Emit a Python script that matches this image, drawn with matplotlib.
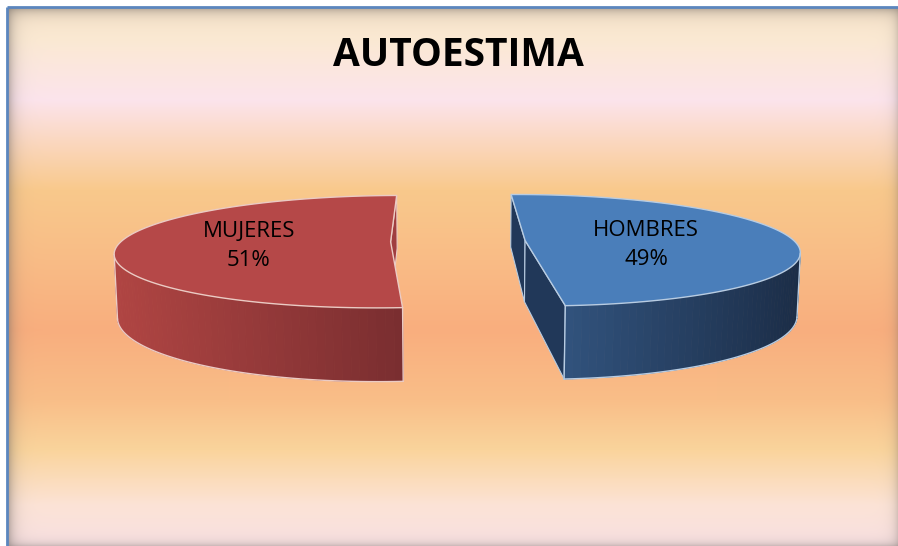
import numpy as np
import matplotlib.pyplot as plt
from matplotlib.patches import Polygon
from matplotlib.colors import to_rgb

# data
title = 'AUTOESTIMA'
labels = ['HOMBRES', 'MUJERES']
values = [49, 51]
top_colors = ['#4A7EBA', '#B54848']
wall_light = ['#31527C', '#B04543']
wall_dark = ['#1B2D47', '#7A2E30']
cut_colors = ['#213859', '#A03D3F']
edge_colors = ['#B8CCE2', '#EBCBC4']

# 3d pie settings
start_deg = 91.0      # boundary between the two slices
explode = 0.25
thick = 0.235
elev = np.radians(12.8)
dist = 5.6
target = np.array([0.0, 0.0, thick / 2])
eye = target + dist * np.array([0.0, -np.cos(elev), np.sin(elev)])
fwd = (target - eye) / np.linalg.norm(target - eye)
right = np.array([1.0, 0.0, 0.0])
up = np.cross(right, fwd)


def proj(p):
    v = np.asarray(p) - eye
    d = v @ fwd
    return np.array([v @ right, v @ up]) * dist / d


def depth(p):
    return np.linalg.norm(np.asarray(p) - eye)


# background gradient stops (pixel row, colour)
stops_y = [8, 40, 100, 190, 260, 330, 400, 450, 505, 546]
stops_c = ['#FAE6CC', '#FBE9D3', '#FCE4EC', '#F9C98C', '#F9BC86', '#F9AE7E',
           '#F9BE88', '#FAD49C', '#FCE3D6', '#F8E0E2']

W, H = 898, 546
fig = plt.figure(figsize=(W / 100, H / 100), dpi=100)
fig.patch.set_facecolor('white')

bg = fig.add_axes([0, 0, 1, 1])
bg.set_xlim(0, W)
bg.set_ylim(H, 0)
bg.axis('off')

x0, y0 = 8, 8
ys = np.arange(y0, H) + 0.5
rgb = np.array([to_rgb(c) for c in stops_c])
col = np.stack([np.interp(ys, stops_y, rgb[:, k]) for k in range(3)], axis=1)
img = np.repeat(col[:, None, :], W - x0, axis=1)

# inner shadow along the edges
xx = np.arange(x0, W) + 0.5
yy = ys
dl = np.exp(-(xx - x0) / 6.0)[None, :] * 0.55
dr = np.exp(-(W - xx) / 5.0)[None, :] * 0.30
dt = np.exp(-(yy - y0) / 6.0)[:, None] * 0.55
db = np.exp(-(H - yy) / 4.0)[:, None] * 0.35
shade = 1 - (1 - dl) * (1 - dr) * (1 - dt) * (1 - db)
shade_col = np.array([0.45, 0.42, 0.40])
img = img * (1 - shade[..., None]) + shade_col * shade[..., None]
bg.imshow(img, extent=(x0, W, H, y0), aspect='auto', interpolation='bilinear')
bg.plot([x0 - 1, x0 - 1], [H, y0 - 1], color='#5B86BE', lw=2, solid_capstyle='butt')
bg.plot([x0 - 1, W], [y0 - 1, y0 - 1], color='#5B86BE', lw=2, solid_capstyle='butt')

bg.text(458, 56, title, ha='center', va='center', fontsize=28,
        fontweight='bold', family='Open Sans', color='black')

# pie axes in projected units
scale = 268.0
cx_px, cy_px = 458, 272
ax = fig.add_axes([0, 0, 1, 1])
ax.set_xlim(-cx_px / scale, (W - cx_px) / scale)
ax.set_ylim(-(H - cy_px) / scale, cy_px / scale)
ax.axis('off')
ax.patch.set_alpha(0)

fracs = np.array(values) / sum(values)
# HOMBRES goes clockwise from the start, MUJERES counterclockwise
spans = [(start_deg - 360 * fracs[0], start_deg),
         (start_deg, start_deg + 360 * fracs[1])]

side_faces = []
tops = []
for i, (a0, a1) in enumerate(spans):
    mid = np.radians((a0 + a1) / 2)
    off = explode * np.array([np.cos(mid), np.sin(mid), 0])
    th = np.radians(np.linspace(a0, a1, 121))
    rim = np.stack([np.cos(th), np.sin(th), np.zeros_like(th)], axis=1) + off
    c_b = off.copy()
    c_t = off + [0, 0, thick]
    top_pts = [c_t] + [p + [0, 0, thick] for p in rim]
    tops.append((i, top_pts))

    # outer wall pieces
    wall = []
    for k in range(len(th) - 1):
        tm = (th[k] + th[k + 1]) / 2
        n = np.array([np.cos(tm), np.sin(tm), 0])
        quad = [rim[k], rim[k + 1], rim[k + 1] + [0, 0, thick], rim[k] + [0, 0, thick]]
        cen = np.mean(quad, axis=0)
        if n @ (eye - cen) > 0:
            wall.append(quad)
    if wall:
        xs = [proj(q[0])[0] for q in wall]
        lo, hi = min(xs), max(xs)
        for q in wall:
            f = (proj(q[0])[0] - lo) / (hi - lo + 1e-9)
            c = (1 - f) * np.array(to_rgb(wall_light[i])) + f * np.array(to_rgb(wall_dark[i]))
            side_faces.append((depth(np.mean(q, axis=0)), [proj(p) for p in q], c, c, 0.6, 1))
        # outline of the visible wall
        ptsb = [proj(q[0]) for q in wall] + [proj(wall[-1][1])]
        ptst = [proj(q[3]) for q in wall] + [proj(wall[-1][2])]
        side_faces.append((0.0, ptsb, None, edge_colors[i], 1.0, 0))
        side_faces.append((0.0, [ptst[0], ptsb[0]], None, edge_colors[i], 1.0, 0))
        side_faces.append((0.0, [ptst[-1], ptsb[-1]], None, edge_colors[i], 1.0, 0))

    # radial cut faces
    for a, sgn in [(a0, -1), (a1, 1)]:
        ar = np.radians(a)
        e = off + [np.cos(ar), np.sin(ar), 0]
        n = np.array([np.cos(ar + sgn * np.pi / 2), np.sin(ar + sgn * np.pi / 2), 0])
        quad = [c_b, e, e + [0, 0, thick], c_t]
        cen = np.mean(quad, axis=0)
        if n @ (eye - cen) > 0:
            side_faces.append((depth(cen) + 0.01, [proj(p) for p in quad], to_rgb(cut_colors[i]),
                               edge_colors[i], 0.8, 1))

# painter's order: far faces first, outlines after their faces
faces = sorted([f for f in side_faces if f[5] == 1], key=lambda f: -f[0])
for d, pts, fc, ec, lw, filled in faces:
    ax.add_patch(Polygon(pts, closed=True, facecolor=fc, edgecolor=ec, lw=lw))
for d, pts, fc, ec, lw, filled in side_faces:
    if filled == 0:
        pts = np.array(pts)
        ax.plot(pts[:, 0], pts[:, 1], color=ec, lw=lw)

for i, pts in tops:
    ax.add_patch(Polygon([proj(p) for p in pts], closed=True,
                         facecolor=top_colors[i], edgecolor=edge_colors[i], lw=1.0))

# labels near the middle of each projected top face
for i, pts in tops:
    pp = np.array([proj(p) for p in pts])
    lx = (pp[:, 0].min() + pp[:, 0].max()) / 2
    ly = (pp[:, 1].min() + pp[:, 1].max()) / 2
    ax.text(lx - 0.035, ly + 0.02, f'{labels[i]}\n{values[i]}%', ha='center', va='center',
            fontsize=16, family='Open Sans', color='black', linespacing=1.5)

fig.savefig('out.png', dpi=100)
